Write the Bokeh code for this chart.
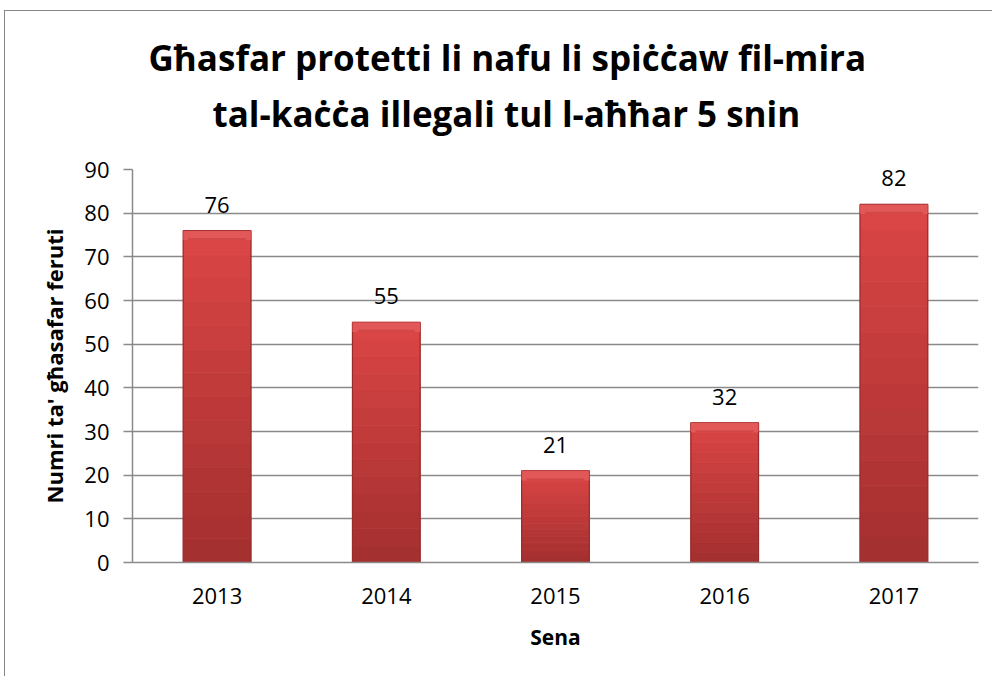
from bokeh.plotting import figure
from bokeh.models import ColumnDataSource, LabelSet, Title
from bokeh.core.properties import value
from bokeh.embed import file_html
from bokeh.resources import INLINE

# ---- data ----
years = ["2013", "2014", "2015", "2016", "2017"]
counts = [76, 55, 21, 32, 82]
y_ticks = [0, 10, 20, 30, 40, 50, 60, 70, 80, 90]
title_line1 = "Għasfar protetti li nafu li spiċċaw fil-mira"
title_line2 = "tal-kaċċa illegali tul l-aħħar 5 snin"
x_label = "Sena"
y_label = "Numri ta' għasafar feruti"

GRID = "#8a8a8a"
FONT = "Open Sans"
TFONT = "Open Sans"

p = figure(x_range=years, y_range=(0, 90), width=988, height=666,
           output_backend="svg", toolbar_location=None,
           min_border_left=127, min_border_right=15,
           min_border_top=158, min_border_bottom=115)
p.title.visible = False
p.outline_line_color = None
p.background_fill_color = "white"
p.border_fill_color = "white"
p.styles = {"border-left": "1px solid #868686", "border-top": "1px solid #868686",
            "margin-left": "4px", "margin-top": "10px"}

# titles (added first -> closest to the plot)
spacer = Title(text=" ", align="left", standoff=0, text_font=TFONT,
               text_font_size="21px")
t2 = Title(text=title_line2, align="left", offset=80, standoff=6,
           text_font=TFONT, text_font_size="35px",
           text_font_style="bold", text_color="black")
t1 = Title(text=title_line1, align="left", offset=16, standoff=7,
           text_font=TFONT, text_font_size="35px",
           text_font_style="bold", text_color="black")
p.add_layout(spacer, "above")
p.add_layout(t2, "above")
p.add_layout(t1, "above")

# bars: vertical gradient built from stacked segments of each value
N = 14
c0 = (0xA5, 0x30, 0x30)
c1 = (0xDA, 0x45, 0x45)
for i in range(N):
    f = i / (N - 1)
    col = "#%02x%02x%02x" % tuple(int(a + (b - a) * f) for a, b in zip(c0, c1))
    bottoms = [v * i / N for v in counts]
    tops = [v * (i + 1) / N for v in counts]
    p.vbar(x=years, bottom=bottoms, top=tops, width=0.4, fill_color=col,
           line_color=col, line_width=0.8)
# side shading
p.vbar(x=years, top=counts, width=0.4, fill_color=None, line_color="#9a2b2b",
       line_width=1.2)
# top bevel
p.vbar(x=years, bottom=[v - 2.2 for v in counts], top=counts, width=0.4,
       fill_color="#e35a5a", line_color=None, fill_alpha=0.85)
p.vbar(x=years, bottom=[v - 2.2 for v in counts], top=[v - 1.7 for v in counts],
       width=0.34, fill_color="#c83c3c", line_color=None, fill_alpha=0.6)

src = ColumnDataSource(dict(years=years, counts=counts,
                            labels=[str(v) for v in counts]))
p.add_layout(LabelSet(x="years", y="counts", text="labels", source=src,
                      y_offset=18, text_align="center",
                      text_baseline="alphabetic", text_font=value(FONT),
                      text_font_size="22px", text_color="black"))

# grid
p.xgrid.grid_line_color = None
p.ygrid.grid_line_color = GRID
p.ygrid.grid_line_width = 1.5
p.ygrid.level = "underlay"

# y axis
p.yaxis.ticker = y_ticks
p.yaxis.axis_line_color = GRID
p.yaxis.axis_line_width = 1.5
p.yaxis.major_tick_line_color = GRID
p.yaxis.major_tick_line_width = 1.5
p.yaxis.major_tick_out = 9
p.yaxis.major_tick_in = 0
p.yaxis.minor_tick_line_color = None
p.yaxis.major_label_standoff = 14
p.yaxis.major_label_text_font = FONT
p.yaxis.major_label_text_font_size = "22px"
p.yaxis.major_label_text_color = "black"
p.yaxis.axis_label = y_label
p.yaxis.axis_label_text_font = FONT
p.yaxis.axis_label_text_font_size = "22px"
p.yaxis.axis_label_text_font_style = "bold"
p.yaxis.axis_label_text_color = "black"
p.yaxis.axis_label_standoff = 12

# x axis
p.xaxis.axis_line_color = GRID
p.xaxis.axis_line_width = 1.5
p.xaxis.major_tick_line_color = None
p.xaxis.minor_tick_line_color = None
p.xaxis.major_label_standoff = 19
p.xaxis.major_label_text_font = FONT
p.xaxis.major_label_text_font_size = "22px"
p.xaxis.major_label_text_color = "black"
p.xaxis.axis_label = x_label
p.xaxis.axis_label_text_font = FONT
p.xaxis.axis_label_text_font_size = "21px"
p.xaxis.axis_label_text_font_style = "bold"
p.xaxis.axis_label_text_color = "black"
p.xaxis.axis_label_standoff = 16

open("out.html", "w").write(file_html(p, INLINE))
